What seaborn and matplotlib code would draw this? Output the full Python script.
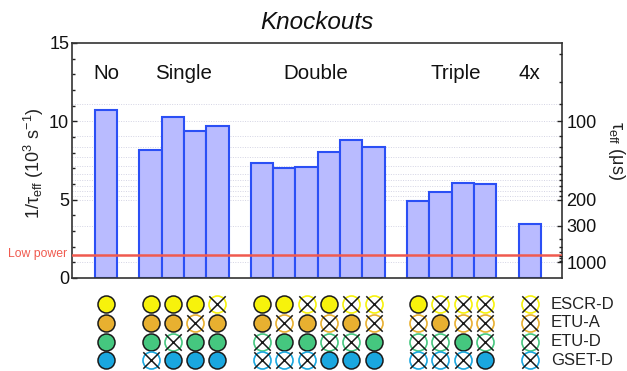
import numpy as np
import pandas as pd
import seaborn as sns
import matplotlib.pyplot as plt

# bar heights, 1/tau_eff in 10^3 s^-1
positions = [0, 2, 3, 4, 5, 7, 8, 9, 10, 11, 12, 14, 15, 16, 17, 19]
rates = [10.72, 8.17, 10.27, 9.4, 9.7, 7.32, 7.05, 7.1, 8.03, 8.8, 8.38, 4.89, 5.51, 6.06, 5.98, 3.46]

group_names = ['No', 'Single', 'Double', 'Triple', '4x']
group_centers = [0, 3.47, 9.4, 15.7, 19]
low_power = 1.47

# which proteins are present under each bar (1 = kept, 0 = knocked out)
escr_d = [1, 1, 1, 1, 0, 1, 1, 0, 1, 0, 0, 1, 0, 0, 0, 0]
etu_a = [1, 1, 1, 0, 1, 1, 0, 1, 0, 1, 0, 0, 1, 0, 0, 0]
etu_d = [1, 1, 0, 1, 1, 0, 1, 1, 0, 0, 1, 0, 0, 1, 0, 0]
gset_d = [1, 0, 1, 1, 1, 0, 0, 0, 1, 1, 1, 0, 0, 0, 1, 0]
protein_names = ['ESCR-D', 'ETU-A', 'ETU-D', 'GSET-D']
protein_colors = ['#f7f20c', '#e8b030', '#45c77f', '#1aa7df']

tau_major = [100, 200, 300, 1000]
tau_minor = [70, 80, 90, 110, 120, 130, 140, 150, 160, 170, 180, 190, 400, 500, 600, 700, 800, 900]
tau_grid = [90, 100, 110, 120, 130, 140, 150, 160, 170, 180, 190, 200, 300, 1000]

sns.set_theme(style='white')
plt.rcParams['font.family'] = ['Liberation Sans', 'DejaVu Sans']
plt.rcParams['mathtext.fontset'] = 'custom'
plt.rcParams['mathtext.rm'] = 'Liberation Sans'
plt.rcParams['mathtext.it'] = 'Liberation Sans:italic'
plt.rcParams['mathtext.default'] = 'rm'

W, H = 627, 371
fig = plt.figure(figsize=(W / 100, H / 100), dpi=100)
ax = fig.add_axes([72 / W, 1 - 278 / H, 490 / W, 235 / H])
xlim = (-1.52, 20.45)

# gridlines sit behind the bars
for t in tau_grid:
    ax.axhline(1000 / t, color='#d4d4e4', lw=0.7, ls=(0, (1, 1.5)), zorder=0)

df = pd.DataFrame({'pos': positions, 'rate': rates})
sns.barplot(data=df, x='pos', y='rate', native_scale=True, width=1.0, color='#b9bbff',
            saturation=1, edgecolor='#2b4ff5', linewidth=1.5, ax=ax, zorder=2)
ax.axhline(low_power, color='#f05a4f', lw=1.8, zorder=3)

ax.set_xlim(xlim)
ax.set_ylim(0, 15)
ax.set_xticks([])
ax.set_xlabel('')
ax.set_yticks([0, 5, 10, 15])
ax.set_yticks(np.arange(0, 15), minor=True)
ax.tick_params(axis='y', which='major', direction='in', length=3.6, width=1, labelsize=13, left=True, pad=2, color='#222222', labelcolor='#111111')
ax.tick_params(axis='y', which='minor', direction='in', length=2.2, width=1, left=True, color='#222222')
ax.set_ylabel('1/τ$_{eff}$ (10$^{3}$ s$^{-1}$)', fontsize=13, color='#222222')
ax.yaxis.set_label_coords(-26 / 490, 0.487)
for s in ax.spines.values():
    s.set_color('#333333')
    s.set_linewidth(1.2)
ax.set_title('Knockouts', fontsize=17.5, style='italic', pad=10, color='#111111')

for name, c in zip(group_names, group_centers):
    ax.text(c, 13.08, name, ha='center', va='center', fontsize=14.8, color='#111111')
ax.text(-1.75, low_power + 0.03, 'Low power', ha='right', va='center', fontsize=8.8, color='#f05a4f')

# right axis is tau in microseconds on the same scale
ax2 = ax.twinx()
ax2.set_ylim(0, 15)
ax2.set_yticks([1000 / t for t in tau_major])
ax2.set_yticklabels([str(t) for t in tau_major])
ax2.set_yticks([1000 / t for t in tau_minor], minor=True)
ax2.tick_params(axis='y', which='major', direction='in', length=3.6, width=1, labelsize=13, right=True, pad=3, color='#222222', labelcolor='#111111')
ax2.tick_params(axis='y', which='minor', direction='in', length=2.2, width=1, right=True, color='#222222')
ax2.set_ylabel('τ$_{eff}$ (μs)', fontsize=13, rotation=270, va='center', color='#222222')
ax2.yaxis.set_label_coords(545 / 490, 127 / 235)
ax2.grid(False)
for s in ax2.spines.values():
    s.set_visible(False)

# knockout table under the bars
lower = fig.add_axes([72 / W, 1 - 371 / H, 490 / W, 76 / H])
lower.set_xlim(xlim)
lower.set_ylim(371, 295)
lower.axis('off')
rows = [304, 322.7, 341.7, 360.3]
for row_y, present, col, name in zip(rows, [escr_d, etu_a, etu_d, gset_d], protein_colors, protein_names):
    d = pd.DataFrame({'pos': positions, 'present': present})
    d['y'] = row_y
    kept = d[d['present'] == 1]
    out = d[d['present'] == 0]
    sns.scatterplot(data=kept, x='pos', y='y', s=150, color=col, edgecolor='#1a1a1a', linewidth=1.1,
                    ax=lower, legend=False, clip_on=False, zorder=3)
    sns.scatterplot(data=out, x='pos', y='y', s=150, color='white', edgecolor=col, linewidth=1.2,
                    ax=lower, legend=False, clip_on=False, zorder=3)
    sns.scatterplot(data=out, x='pos', y='y', s=140, marker='x', color='#1a1a1a', linewidth=1.1,
                    ax=lower, legend=False, clip_on=False, zorder=4)
    lower.text(19.96, row_y, name, ha='left', va='center', fontsize=12, color='#222222', clip_on=False)
lower.set_xlabel('')
lower.set_ylabel('')

fig.savefig('out.png', dpi=100)
